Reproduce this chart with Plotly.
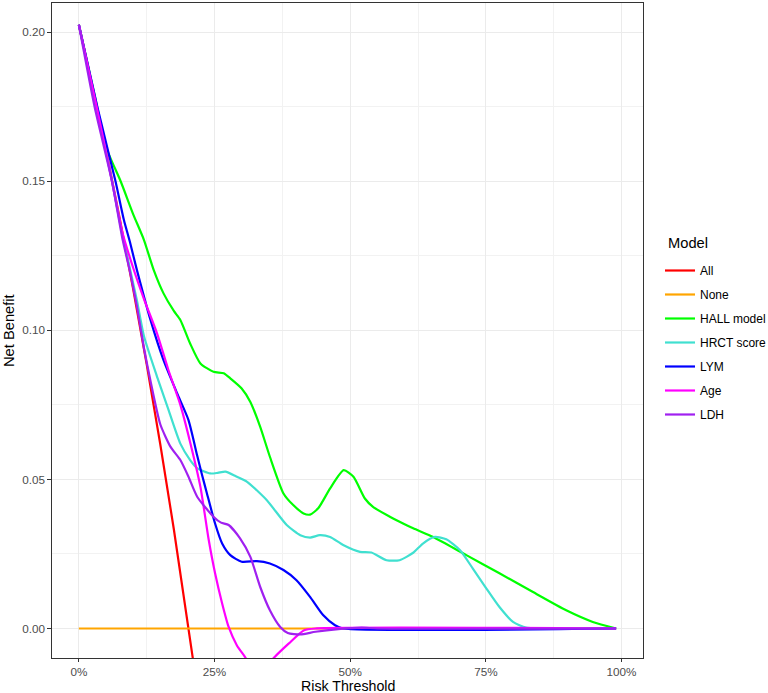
import plotly.graph_objects as go

# ---- data ----
models = ["All", "None", "HALL model", "HRCT score", "LYM", "Age", "LDH"]
colors = ["#FF0000", "#FFA500", "#00FF00", "#40E0D0", "#0000FF", "#FF00FF", "#A020F0"]

all_x = [0, 0.025, 0.05, 0.075, 0.10, 0.125, 0.15, 0.175, 0.20, 0.21, 0.22]
all_y = [0.2025, 0.182, 0.1605, 0.1378, 0.1139, 0.0886, 0.0618, 0.0333, 0.0031, -0.0095, -0.0224]

none_x = [0, 0.25, 0.5, 0.75, 0.99]
none_y = [0, 0, 0, 0, 0]

hall_x = [0, 0.03, 0.05, 0.077, 0.10, 0.12, 0.138, 0.156, 0.175, 0.187, 0.205, 0.224, 0.248,
          0.267, 0.279, 0.30, 0.316, 0.334, 0.352, 0.377, 0.395, 0.414, 0.426, 0.441, 0.463,
          0.488, 0.506, 0.527, 0.542, 0.573, 0.591, 0.616, 0.653, 0.714, 0.775, 0.836, 0.898,
          0.947, 0.99]
hall_y = [0.2025, 0.178, 0.1615, 0.150, 0.139, 0.1303, 0.1202, 0.1124, 0.1065, 0.1035, 0.0956,
          0.0889, 0.0861, 0.0856, 0.0839, 0.0805, 0.076, 0.0677, 0.0576, 0.0453, 0.0414, 0.0386,
          0.0382, 0.0403, 0.047, 0.0531, 0.0509, 0.0436, 0.0408, 0.0375, 0.0358, 0.0336, 0.0307,
          0.0246, 0.0185, 0.0123, 0.0061, 0.0022, 0.0]

hrct_x = [0, 0.03, 0.06, 0.08, 0.095, 0.107, 0.12, 0.144, 0.163, 0.187, 0.205, 0.218, 0.242,
          0.256, 0.270, 0.290, 0.310, 0.346, 0.383, 0.408, 0.426, 0.444, 0.463, 0.487, 0.518,
          0.539, 0.567, 0.591, 0.616, 0.634, 0.656, 0.677, 0.702, 0.726, 0.751, 0.775, 0.800,
          0.824, 0.85, 0.99]
hrct_y = [0.2025, 0.177, 0.151, 0.132, 0.120, 0.110, 0.098, 0.0845, 0.0745, 0.062, 0.0565,
          0.0538, 0.052, 0.0522, 0.0526, 0.051, 0.0492, 0.0431, 0.0347, 0.0313, 0.0305, 0.0313,
          0.0307, 0.028, 0.0257, 0.0255, 0.0229, 0.0229, 0.0254, 0.0285, 0.0307, 0.0299, 0.0263,
          0.0201, 0.0134, 0.0072, 0.0022, 0.0003, 0.0, 0.0]

lym_x = [0, 0.034, 0.0675, 0.083, 0.094, 0.107, 0.132, 0.156, 0.181, 0.202, 0.218, 0.227,
         0.236, 0.251, 0.264, 0.279, 0.300, 0.328, 0.352, 0.377, 0.401, 0.426, 0.450, 0.472,
         0.487, 0.99]
lym_y = [0.2025, 0.175, 0.150, 0.137, 0.1297, 0.1202, 0.1035, 0.090, 0.0789, 0.0699, 0.058,
         0.0515, 0.0453, 0.0352, 0.0285, 0.0246, 0.0224, 0.0226, 0.0218, 0.0196, 0.0162, 0.0106,
         0.0045, 0.0011, 0.0, 0.0]

age_x = [0, 0.034, 0.061, 0.08, 0.10, 0.12, 0.144, 0.165, 0.187, 0.205, 0.224, 0.239, 0.251,
         0.264, 0.276, 0.291, 0.306, 0.33, 0.359, 0.387, 0.415, 0.436, 0.99]
age_y = [0.2025, 0.174, 0.150, 0.133, 0.121, 0.1105, 0.099, 0.0867, 0.0750, 0.0625, 0.0475,
         0.030, 0.0185, 0.0084, 0.0005, -0.0056, -0.0095, -0.016, -0.0099, -0.005, -0.0006,
         0.0, 0.0]

ldh_x = [0, 0.029, 0.061, 0.08, 0.095, 0.107, 0.12, 0.132, 0.15, 0.169, 0.187, 0.202, 0.218,
         0.248, 0.262, 0.276, 0.297, 0.316, 0.334, 0.352, 0.371, 0.385, 0.408, 0.436, 0.478,
         0.521, 0.55, 0.99]
ldh_y = [0.2025, 0.175, 0.150, 0.131, 0.119, 0.108, 0.094, 0.083, 0.0685, 0.0609, 0.0565,
         0.0509, 0.0442, 0.0375, 0.0355, 0.0347, 0.0302, 0.024, 0.014, 0.0061, 0.0005, -0.0015,
         -0.002, -0.0011, -0.0002, 0.0003, 0.0, 0.0]

x_tickvals = [0, 0.25, 0.5, 0.75, 1.0]
x_ticktext = ["0%", "25%", "50%", "75%", "100%"]
y_tickvals = [0.0, 0.05, 0.10, 0.15, 0.20]
y_ticktext = ["0.00", "0.05", "0.10", "0.15", "0.20"]

series = [
    (all_x, all_y, "linear"),
    (none_x, none_y, "linear"),
    (hall_x, hall_y, "spline"),
    (hrct_x, hrct_y, "spline"),
    (lym_x, lym_y, "spline"),
    (age_x, age_y, "spline"),
    (ldh_x, ldh_y, "spline"),
]

FONT = "Liberation Sans, Arial, sans-serif"

fig = go.Figure()
for name, color, (xs, ys, shape) in zip(models, colors, series):
    line = dict(color=color, width=2.2, shape=shape)
    if shape == "spline":
        line["smoothing"] = 0.6
    fig.add_trace(go.Scatter(x=xs, y=ys, mode="lines", name=name, line=line,
                             legendgroup=name))

W, H = 768, 693
ml, mr, mt, mb = 52, 125, 3, 35
pw, ph = W - ml - mr, H - mt - mb

axis_common = dict(
    showline=True, mirror=True, linecolor="#333333", linewidth=1,
    ticks="outside", tickwidth=1, tickcolor="#333333",
    tickfont=dict(family=FONT, size=11.7, color="#4D4D4D"),
    showgrid=True, gridcolor="#EBEBEB", gridwidth=1,
    zeroline=False,
)

fig.update_xaxes(range=[-0.0495, 1.0395], tickvals=x_tickvals, ticktext=x_ticktext,
                 ticklen=3.2,
                 minor=dict(tickvals=[0.125, 0.375, 0.625, 0.875], showgrid=True,
                            gridcolor="#F2F2F2", gridwidth=0.6, ticks=""),
                 **axis_common)
fig.update_yaxes(range=[-0.0099, 0.2098], tickvals=y_tickvals, ticktext=y_ticktext,
                 ticklen=3.7,
                 minor=dict(tickvals=[0.025, 0.075, 0.125, 0.175], showgrid=True,
                            gridcolor="#F2F2F2", gridwidth=0.6, ticks=""),
                 **axis_common)

fig.update_layout(
    width=W, height=H,
    margin=dict(l=ml, r=mr, t=mt, b=mb, autoexpand=False),
    paper_bgcolor="white", plot_bgcolor="white",
    font=dict(family=FONT, color="black"),
    showlegend=True,
    legend=dict(
        font=dict(family=FONT, size=12, color="black"),
        x=(660 - ml) / pw, xanchor="left",
        y=(H - mb - 256) / ph, yanchor="top",
        tracegroupgap=5,
        bgcolor="rgba(0,0,0,0)",
    ),
    annotations=[
        dict(text="Model", xref="paper", yref="paper", x=(666 - ml) / pw,
             y=(H - mb - 243) / ph, xanchor="left", yanchor="middle",
             showarrow=False, font=dict(family=FONT, size=14.7, color="black")),
        dict(text="Risk Threshold", xref="paper", yref="paper", x=0.5,
             y=-(685.6 - (H - mb)) / ph, xanchor="center", yanchor="middle",
             showarrow=False, font=dict(family=FONT, size=14.2, color="black")),
        dict(text="Net Benefit", xref="paper", yref="paper", x=(8.5 - ml) / pw, y=0.5,
             xanchor="center", yanchor="middle", textangle=-90,
             showarrow=False, font=dict(family=FONT, size=14.7, color="black")),
    ],
)

fig.write_html("out.html")
